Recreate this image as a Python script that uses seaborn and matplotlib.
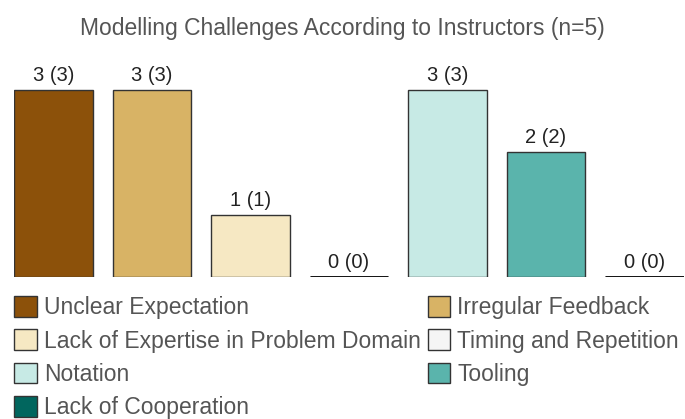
import pandas as pd
import matplotlib.pyplot as plt
import seaborn as sb

categories = ['Unclear Expectation', 'Irregular Feedback',
              'Lack of Expertise in Problem Domain', 'Timing and Repetition',
              'Notation', 'Tooling', 'Lack of Cooperation']
counts = [3, 3, 1, 0, 3, 2, 0]
responses = [3, 3, 1, 0, 3, 2, 0]
colors = ['#8c510a', '#d8b365', '#f6e8c3', '#f5f5f5', '#c7eae5', '#5ab4ac', '#01665e']

sb.set_style('white')
plt.rcParams['font.family'] = ['Liberation Sans', 'DejaVu Sans']
text_color = '#555555'

data = pd.DataFrame({'challenge': categories, 'count': counts})

fig = plt.figure(figsize=(6.85, 4.19), dpi=100)
ax = fig.add_axes([14 / 685, 1 - 277 / 419, 670 / 685, 187 / 419 * 1.2])

sb.barplot(data=data, x='challenge', y='count', hue='challenge',
           palette=colors, order=categories, hue_order=categories,
           saturation=1, width=0.8, edgecolor='#333333', linewidth=1,
           legend=False, ax=ax)

# zero bars drawn as a thick line
for i, v in enumerate(counts):
    if v == 0:
        ax.plot([i - 0.4, i + 0.4], [0, 0], color='black', lw=2, solid_capstyle='butt')

for i, (v, r) in enumerate(zip(counts, responses)):
    ax.text(i, v + 0.08, f'{v} ({r})', ha='center', va='bottom',
            fontsize=14.5, color='#222222')

ax.set_xlim(-0.4, 6.4)
ax.set_ylim(0, 3.6)
ax.set_xlabel('')
ax.set_ylabel('')
ax.set_xticks([])
ax.set_yticks([])
sb.despine(ax=ax, left=True, bottom=True)

fig.suptitle('Modelling Challenges According to Instructors (n=5)',
             x=0.5, y=1 - 29 / 419, va='center', fontsize=16.5, color=text_color)

# legend filled row by row in two columns
handles = [plt.Rectangle((0, 0), 1, 1, facecolor=c, edgecolor='#333333', lw=1) for c in colors]
order = [0, 2, 4, 6, 1, 3, 5]
leg = fig.legend([handles[i] for i in order], [categories[i] for i in order],
                 ncol=2, loc='upper left', bbox_to_anchor=(14 / 685, 1 - 296 / 419),
                 frameon=False, fontsize=16.5, handlelength=1.0, handleheight=1.0,
                 handletextpad=0.3, columnspacing=0.3, labelspacing=0.45,
                 borderaxespad=0, borderpad=0)
for t in leg.get_texts():
    t.set_color(text_color)

fig.savefig('out.png', dpi=100)
